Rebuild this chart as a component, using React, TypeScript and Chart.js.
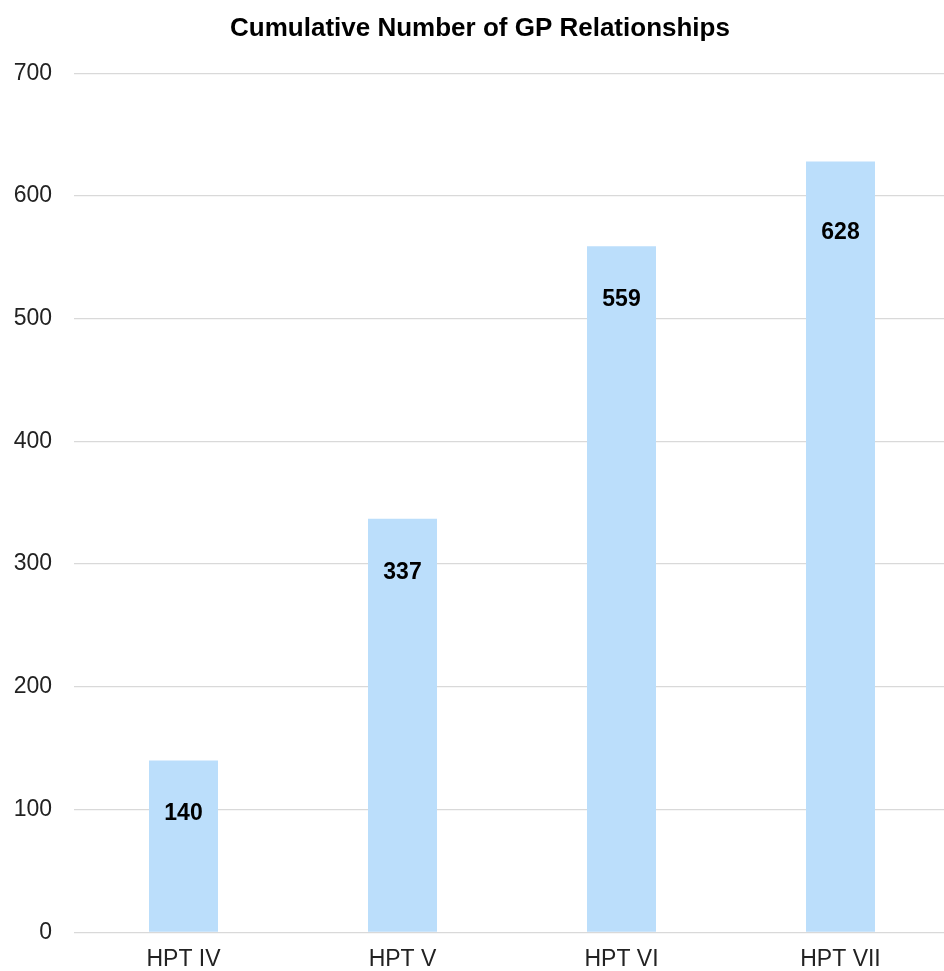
import React, { useEffect, useRef } from "react";
import { Chart, registerables } from "chart.js";

Chart.register(...registerables);

const title = "Cumulative Number of GP Relationships";
const categories = ["HPT IV", "HPT V", "HPT VI", "HPT VII"];
const values = [140, 337, 559, 628];
const yTicks = [0, 100, 200, 300, 400, 500, 600, 700];
const labelOffsets = [53, 54, 53, 71];

const FONT = '"Liberation Sans", Arial, Helvetica, sans-serif';

const valueLabelPlugin = {
  id: "valueLabels",
  afterDatasetsDraw(chart: any, _args: any, opts: any) {
    const ctx = chart.ctx;
    const meta = chart.getDatasetMeta(0);
    ctx.save();
    ctx.font = `bold 23px ${FONT}`;
    ctx.fillStyle = "#000000";
    ctx.textAlign = "center";
    ctx.textBaseline = "middle";
    meta.data.forEach((bar: any, i: number) => {
      const off = (opts.offsets && opts.offsets[i]) || 53;
      ctx.fillText(String(chart.data.datasets[0].data[i]), bar.x, bar.y + off);
    });
    ctx.restore();
  },
};

// The plot area of the reference runs a few pixels past the right edge of the picture,
// and its title is centred slightly right of the picture's middle.
const widenPlugin = {
  id: "widenArea",
  afterLayout(chart: any, _args: any, opts: any) {
    const extra = opts.extra || 0;
    const xs = chart.scales.x;
    xs.right = xs.right + extra;
    xs.width = xs.right - xs.left;
    xs.configure();
    chart.chartArea.right = chart.chartArea.right + extra;
    chart.chartArea.width = chart.chartArea.right - chart.chartArea.left;
    const ys = chart.scales.y;
    if (ys) ys.configure();
    const tb = chart.titleBlock;
    if (tb && opts.titleShift) {
      tb.left = tb.left + opts.titleShift;
      tb.width = tb.right - tb.left;
    }
  },
};

export default function App() {
  const ref = useRef<HTMLCanvasElement | null>(null);
  useEffect(() => {
    document.body.style.margin = "0";
    const canvas = ref.current!;
    const chart = new Chart(canvas, {
      type: "bar",
      data: {
        labels: categories,
        datasets: [
          {
            data: values,
            backgroundColor: "rgb(187,222,251)",
            borderWidth: 0,
            barPercentage: 0.315,
            categoryPercentage: 1,
          },
        ],
      },
      options: {
        responsive: false,
        animation: false,
        devicePixelRatio: 1,
        layout: { padding: { left: 0, right: 0, top: 0, bottom: 0 } },
        plugins: {
          legend: { display: false },
          tooltip: { enabled: false },
          title: {
            display: true,
            text: title,
            color: "#000000",
            font: { family: FONT, size: 26, weight: "bold" },
            padding: { top: 13, bottom: 29 },
          },
          valueLabels: { offsets: labelOffsets },
          widenArea: { extra: 6, titleShift: 16 },
        } as any,
        scales: {
          x: {
            grid: { display: false, drawTicks: false },
            border: { display: false },
            ticks: {
              color: "#222222",
              font: { family: FONT, size: 23 },
              padding: 14,
              maxRotation: 0,
              autoSkip: false,
            },
            afterFit(scale: any) {
              scale.height = 38.7;
            },
          },
          y: {
            min: 0,
            max: 700,
            afterBuildTicks(scale: any) {
              scale.ticks = yTicks.map((v) => ({ value: v }));
            },
            grid: { color: "#d9d9d9", lineWidth: 1.3, drawTicks: false },
            border: { display: false },
            ticks: {
              color: "#222222",
              font: { family: FONT, size: 23 },
              padding: 22,
            },
            afterFit(scale: any) {
              scale.width = 74;
            },
          },
        },
      },
      plugins: [valueLabelPlugin, widenPlugin],
    });
    return () => chart.destroy();
  }, []);
  return (
    <div style={{ position: "absolute", left: 0, top: 0, width: 944, height: 971 }}>
      <canvas ref={ref} width={944} height={971} style={{ display: "block" }} />
    </div>
  );
}
